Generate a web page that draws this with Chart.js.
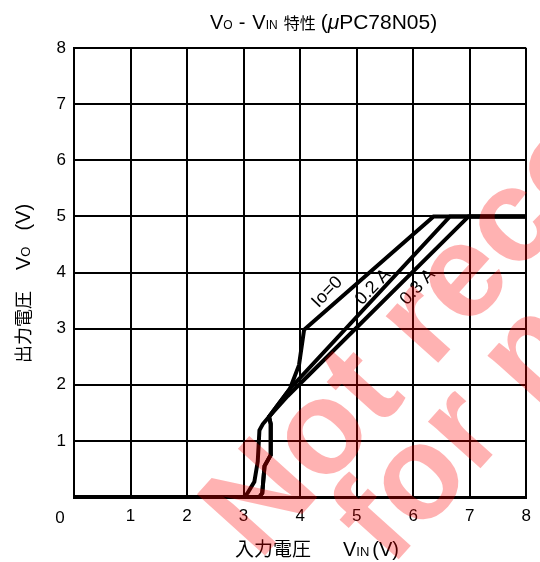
<!DOCTYPE html>
<html>
<head>
<meta charset="utf-8">
<script src="https://cdn.jsdelivr.net/npm/chart.js@4/dist/chart.umd.min.js"></script>
<style>
html,body{margin:0;padding:0;background:#fff;}
#wrap{width:540px;height:562px;}
</style>
</head>
<body>
<div id="wrap"><canvas id="c" width="540" height="562"></canvas></div>
<script>
// ---- data ----
const vinIo0 = [0, 3.00, 3.07, 3.19, 3.25, 3.28, 3.34, 3.45, 3.82, 3.98, 4.07, 6.36, 8];
const voIo0  = [0, 0,    0.07, 0.27, 0.63, 1.19, 1.30, 1.43, 1.93, 2.35, 2.98, 5.00, 5.00];
const vin02  = [0, 3.28, 3.33, 3.37, 3.48, 3.48, 3.45, 3.82, 6.65, 8];
const vo02   = [0, 0,    0.07, 0.55, 0.75, 1.30, 1.43, 1.93, 5.00, 5.00];
const vin03  = [0, 3.28, 3.33, 3.37, 3.48, 3.48, 3.45, 3.78, 6.98, 8];
const vo03   = [0, 0,    0.07, 0.55, 0.75, 1.30, 1.43, 1.80, 5.00, 5.00];
const xTicks = [0, 1, 2, 3, 4, 5, 6, 7, 8];
const yTicks = [0, 1, 2, 3, 4, 5, 6, 7, 8];
const curveLabels = [
  {text: 'Io=0',  x: 4.48, y: 3.65},
  {text: '0.2 A', x: 5.29, y: 3.74},
  {text: '0.3 A', x: 6.08, y: 3.74}
];

const LAT = "'Liberation Sans', Arial, sans-serif";
const CJK = "'Noto Sans CJK JP', sans-serif";
const pts = (xs, ys) => xs.map((x, i) => ({x: x, y: ys[i]}));

// runs: {t, f, gap}
function drawRuns(ctx, runs, x, y, center) {
  let total = 0;
  runs.forEach(r => { ctx.font = r.f; r.w = ctx.measureText(r.t).width; total += r.w + (r.gap || 0); });
  let cx = center ? x - total / 2 : x;
  ctx.textAlign = 'left';
  ctx.textBaseline = 'alphabetic';
  runs.forEach(r => { cx += (r.gap || 0); ctx.font = r.f; ctx.fillText(r.t, cx, y); cx += r.w; });
}

const decor = {
  id: 'decor',
  afterDraw(chart) {
    const ctx = chart.ctx, xs = chart.scales.x, ys = chart.scales.y, ca = chart.chartArea;
    ctx.save();
    ctx.fillStyle = '#000';
    // title
    const tb = '20px ' + LAT, ts = '12px ' + LAT, tc = '16px ' + CJK, tl = '21px ' + LAT;
    drawRuns(ctx, [
      {t: 'V', f: tb}, {t: 'O', f: ts}, {t: '-', f: tb, gap: 6},
      {t: 'V', f: tb, gap: 7}, {t: 'IN', f: ts}, {t: '特性', f: tc, gap: 6},
      {t: '(', f: tl, gap: 5}, {t: 'μ', f: 'italic 21px ' + LAT}, {t: 'PC78N05)', f: tl}
    ], 210, 29, false);
    // x-axis title
    drawRuns(ctx, [
      {t: '入力電圧', f: '19px ' + CJK}, {t: 'V', f: '20px ' + LAT, gap: 32},
      {t: 'IN', f: '13px ' + LAT}, {t: '(V)', f: '20px ' + LAT, gap: 3}
    ], 235, 556, false);
    // y-axis title
    ctx.save();
    ctx.translate(30, 363);
    ctx.rotate(-Math.PI / 2);
    drawRuns(ctx, [
      {t: '出力電圧', f: '18px ' + CJK}, {t: 'V', f: '20px ' + LAT, gap: 21},
      {t: 'O', f: '13px ' + LAT}, {t: '(V)', f: '20px ' + LAT, gap: 16}
    ], 0, 0, false);
    ctx.restore();
    // shared origin label
    ctx.font = '17px ' + LAT;
    ctx.textAlign = 'center';
    ctx.textBaseline = 'middle';
    ctx.fillText('0', ca.left - 14, ca.bottom + 21);
    // curve labels
    ctx.font = '18px ' + LAT;
    curveLabels.forEach(l => {
      ctx.save();
      ctx.translate(xs.getPixelForValue(l.x), ys.getPixelForValue(l.y));
      ctx.rotate(-46 * Math.PI / 180);
      ctx.textAlign = 'center';
      ctx.textBaseline = 'middle';
      ctx.fillText(l.text, 0, 0);
      ctx.restore();
    });
    // watermark
    ctx.save();
    ctx.fillStyle = 'rgba(255,0,0,0.3)';
    ctx.font = 'bold 133px ' + LAT;
    ctx.translate(259, 562);
    ctx.rotate(-48 * Math.PI / 180);
    ctx.textAlign = 'left';
    ctx.textBaseline = 'alphabetic';
    ctx.fillText('Not recommended', 0, 0);
    ctx.fillText('for new design', 83, 102);
    ctx.restore();
    ctx.restore();
  }
};

const ds = (data) => ({
  data: data, borderColor: '#000', borderWidth: 4, pointRadius: 0,
  tension: 0, fill: false, borderJoinStyle: 'miter', borderCapStyle: 'butt'
});

new Chart(document.getElementById('c'), {
  type: 'line',
  data: {
    datasets: [ds(pts(vinIo0, voIo0)), ds(pts(vin02, vo02)), ds(pts(vin03, vo03))]
  },
  options: {
    responsive: false,
    animation: false,
    devicePixelRatio: 1,
    layout: {padding: {left: 0, right: 12, top: 48, bottom: 0}},
    plugins: {legend: {display: false}, tooltip: {enabled: false}, title: {display: false}},
    scales: {
      x: {
        type: 'linear', min: 0, max: 8,
        afterBuildTicks: s => { s.ticks = xTicks.map(v => ({value: v})); },
        afterFit: s => { s.height = 65; },
        grid: {color: '#000', lineWidth: 2, drawTicks: false},
        border: {color: '#000', width: 3},
        ticks: {color: '#000', font: {size: 17, family: LAT}, padding: 9,
                callback: v => v === 0 ? '' : String(v), maxRotation: 0}
      },
      y: {
        type: 'linear', min: 0, max: 8,
        afterBuildTicks: s => { s.ticks = yTicks.map(v => ({value: v})); },
        afterFit: s => { s.width = 74; },
        grid: {color: '#000', lineWidth: 2, drawTicks: false},
        border: {color: '#000', width: 2},
        ticks: {color: '#000', font: {size: 17, family: LAT}, padding: 8,
                callback: v => v === 0 ? '' : String(v)}
      }
    }
  },
  plugins: [decor]
});
</script>
</body>
</html>
